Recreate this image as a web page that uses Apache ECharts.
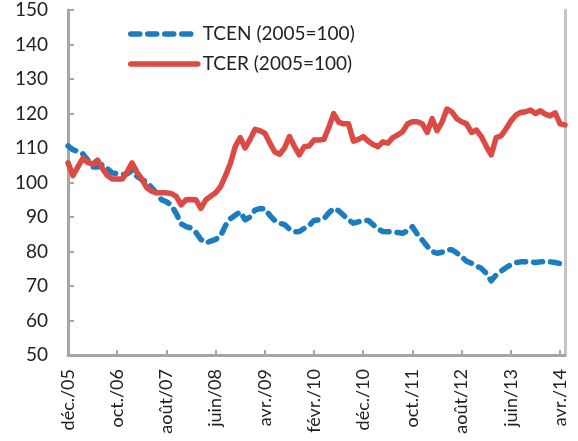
<!DOCTYPE html>
<html>
<head>
<meta charset="utf-8">
<script src="https://cdn.jsdelivr.net/npm/echarts@6/dist/echarts.min.js"></script>
<style>
  html, body { margin: 0; padding: 0; background: #fff; }
  #chart { width: 578px; height: 441px; }
</style>
</head>
<body>
<div id="chart"></div>
<script>
// monthly, déc. 2005 -> mai 2014
const monthNames = ["janv.", "févr.", "mars", "avr.", "mai", "juin", "juil.", "août", "sept.", "oct.", "nov.", "déc."];
const startYear = 2005, startMonth = 11, monthCount = 102;

const tcen = [
  110.6, 109.5, 109, 108.3, 106.5, 104.5, 104.5, 105.2, 104, 102.8,
  102.5, 102.3, 102.5, 103.5, 101.8, 100.8, 100.2, 98.5, 97, 95,
  94.4, 93.5, 91, 88, 87.2, 86.8, 85.5, 83.5, 82.5, 83,
  83.5, 84.5, 87.5, 89.5, 90.5, 91.5, 89.2, 90, 92, 92.4,
  92.4, 90.5, 89, 88.2, 87.8, 86.5, 85.7, 85.8, 86.7, 87.5,
  89, 89.2, 89.5, 91.2, 92.5, 91.8, 90.5, 89.2, 88.2, 88.6,
  89, 89, 87.8, 86.5, 85.8, 85.7, 85.7, 85.5, 85.3, 86,
  87.2, 85, 83.3, 81.5, 80, 79.5, 79.8, 80.5, 80.5, 79.6,
  78.5, 77.2, 76.6, 75.8, 75.1, 73.7, 71.5, 73.2, 74.3, 75.3,
  76.2, 76.8, 77, 77, 77, 76.8, 77, 77, 77, 76.8,
  76.5, null
];

const tcer = [
  105.7, 102, 104.5, 107, 105.8, 105.3, 106.5, 104, 102, 101,
  101, 101, 103, 105.7, 103, 101, 98.5, 97.5, 97, 97,
  97, 96.8, 96, 93.5, 95, 95.1, 95, 92.5, 95, 96,
  97, 98.8, 102, 105.5, 110.5, 113, 110, 112.5, 115.4, 115,
  114.3, 111.5, 108.9, 108.2, 110, 113.3, 110.5, 108, 110.4, 110.6,
  112.3, 112.3, 112.5, 116, 120, 117.5, 117, 117, 112, 112.5,
  113.3, 112, 111, 110.4, 111.8, 111.4, 113, 113.8, 114.7, 117,
  117.6, 117.6, 117, 114.5, 118.5, 115, 117.5, 121.3, 120.5, 118.5,
  117.6, 117, 114.5, 115.2, 113.3, 110.5, 108, 113, 113.5, 115.5,
  117.8, 119.5, 120.3, 120.5, 121, 120, 120.8, 119.8, 119.3, 120.2,
  117, 116.7
];

const categories = [];
for (let i = 0; i < monthCount; i++) {
  const m = (startMonth + i) % 12;
  const y = startYear + Math.floor((startMonth + i) / 12);
  categories.push(monthNames[m] + "/" + String(y).slice(2));
}

const font = "Lato, 'Open Sans', sans-serif";
const axisGrey = "#a6a6a6";
const blue = "#1a7cc1";
const red = "#dc4a43";

const chart = echarts.init(document.getElementById("chart"));

chart.setOption({
  animation: false,
  backgroundColor: "#fff",
  grid: { left: 68, right: 13, top: 10, bottom: 86, containLabel: false },
  legend: {
    orient: "vertical",
    left: 128,
    top: 24,
    padding: 0,
    itemWidth: 67,
    itemHeight: 14,
    itemGap: 10,
    itemStyle: { opacity: 0 },
    lineStyle: { width: 5.5, cap: "round" },
    textStyle: { fontFamily: font, fontSize: 19, color: "#222", lineHeight: 20 },
    data: ["TCEN (2005=100)", "TCER (2005=100)"]
  },
  xAxis: {
    type: "category",
    data: categories,
    boundaryGap: false,
    axisLine: { lineStyle: { color: axisGrey, width: 3 } },
    axisTick: { inside: true, length: 5, interval: 9, lineStyle: { color: axisGrey, width: 2 } },
    axisLabel: { interval: 9, rotate: 90, margin: 14, fontFamily: font, fontSize: 18, color: "#222" },
    splitLine: { show: false }
  },
  yAxis: [
    {
      type: "value",
      min: 50,
      max: 150,
      interval: 10,
      axisLine: { show: true, lineStyle: { color: axisGrey, width: 3 } },
      axisTick: { show: true, inside: true, length: 6, lineStyle: { color: axisGrey, width: 2 } },
      axisLabel: { margin: 20, fontFamily: font, fontSize: 19, color: "#222" },
      splitLine: { show: false }
    },
    {
      // light frame on the right side
      type: "value",
      position: "right",
      min: 50,
      max: 150,
      interval: 10,
      axisLine: { show: true, lineStyle: { color: "#c4c4c4", width: 3 } },
      axisTick: { show: false },
      axisLabel: { show: false },
      splitLine: { show: false }
    }
  ],
  series: [
    {
      name: "TCEN (2005=100)",
      type: "line",
      data: tcen,
      symbol: "none",
      z: 2,
      itemStyle: { color: blue },
      lineStyle: { color: blue, width: 5.5, type: [9, 8], cap: "round", join: "round" }
    },
    {
      name: "TCER (2005=100)",
      type: "line",
      data: tcer,
      symbol: "none",
      z: 3,
      itemStyle: { color: red },
      lineStyle: { color: red, width: 5.5, cap: "round", join: "round" }
    }
  ]
});
</script>
</body>
</html>
